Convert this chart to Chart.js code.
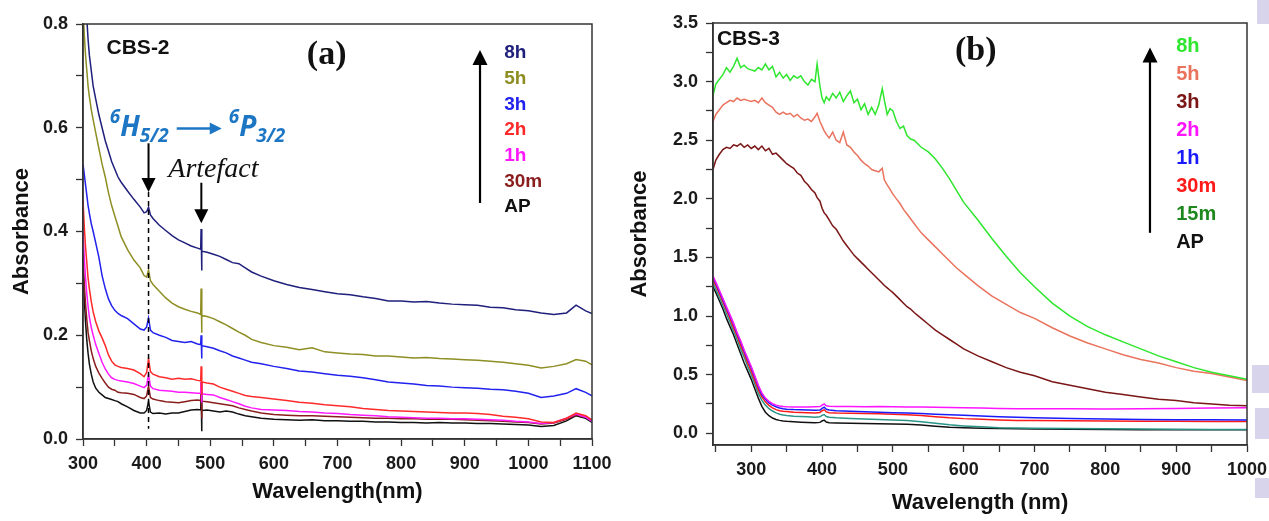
<!DOCTYPE html>
<html>
<head>
<meta charset="utf-8">
<title>UV-Vis absorbance of CBS-2 and CBS-3</title>
<script src="https://cdn.jsdelivr.net/npm/chart.js@4.4.0/dist/chart.umd.min.js"></script>
<style>
  html, body { margin: 0; padding: 0; background: #fff; }
  #wrap { position: relative; width: 1269px; height: 521px; overflow: hidden; background: #fff; }
  canvas { position: absolute; top: 0; }
  #chartA { left: 0; }
  #chartB { left: 620px; }
  .smudge { position: absolute; background: #d8d4ec; }
</style>
</head>
<body>
<div id="wrap">
  <div class="smudge" style="left:1257px;top:0;width:12px;height:24px"></div>
  <div class="smudge" style="left:1252px;top:365px;width:17px;height:28px"></div>
  <div class="smudge" style="left:1255px;top:408px;width:14px;height:31px"></div>
  <div class="smudge" style="left:1255px;top:478px;width:14px;height:20px"></div>
  <canvas id="chartA" width="620" height="521"></canvas>
  <canvas id="chartB" width="649" height="521"></canvas>
</div>
<script>
// ---------- panel (a): CBS-2 ----------
const waveA = [300, 302, 304, 306, 308, 310, 313, 316, 320, 325,
  330, 335, 340, 345, 350, 355, 360, 370, 380, 390,
  396, 400, 403, 406, 410, 420, 430, 440, 450, 460,
  470, 480, 485, 485.6, 486.4, 487, 495, 505, 515, 525,
  535, 545, 555, 565, 580, 600, 620, 640, 660, 680,
  700, 720, 740, 760, 780, 800, 820, 840, 860, 880,
  900, 920, 940, 960, 980, 1000, 1020, 1040, 1060, 1075,
  1090, 1100];

const a8h = [0.98, 0.92, 0.86, 0.81, 0.77, 0.74, 0.71, 0.68, 0.655, 0.625,
  0.600, 0.575, 0.555, 0.535, 0.520, 0.505, 0.495, 0.478, 0.462, 0.447,
  0.436, 0.438, 0.447, 0.432, 0.425, 0.412, 0.402, 0.392, 0.384, 0.378,
  0.372, 0.368, 0.366, 0.405, 0.325, 0.362, 0.360, 0.356, 0.352, 0.346,
  0.340, 0.338, 0.330, 0.322, 0.314, 0.305, 0.298, 0.292, 0.288, 0.284,
  0.280, 0.278, 0.274, 0.271, 0.266, 0.266, 0.264, 0.265, 0.262, 0.260,
  0.259, 0.258, 0.254, 0.253, 0.249, 0.247, 0.243, 0.240, 0.243, 0.258,
  0.247, 0.242];
const a5h = [0.83, 0.78, 0.74, 0.71, 0.68, 0.66, 0.635, 0.615, 0.59, 0.56,
  0.53, 0.505, 0.475, 0.45, 0.43, 0.41, 0.39, 0.365, 0.345, 0.33,
  0.315, 0.312, 0.326, 0.305, 0.298, 0.285, 0.272, 0.262, 0.255, 0.25,
  0.246, 0.243, 0.24, 0.29, 0.205, 0.238, 0.236, 0.232, 0.226, 0.22,
  0.213, 0.206, 0.2, 0.192, 0.186, 0.18, 0.177, 0.172, 0.176, 0.168,
  0.166, 0.164, 0.163, 0.16, 0.16, 0.158, 0.156, 0.157, 0.155, 0.154,
  0.153, 0.152, 0.15, 0.148, 0.145, 0.142, 0.137, 0.14, 0.145, 0.153,
  0.15, 0.143];
const a3h = [0.53, 0.51, 0.49, 0.47, 0.45, 0.435, 0.415, 0.40, 0.378, 0.35,
  0.315, 0.29, 0.27, 0.257, 0.248, 0.242, 0.238, 0.232, 0.222, 0.212,
  0.21, 0.216, 0.233, 0.21, 0.205, 0.2, 0.196, 0.19, 0.188, 0.186,
  0.188, 0.183, 0.182, 0.2, 0.155, 0.18, 0.178, 0.175, 0.17, 0.166,
  0.16, 0.156, 0.152, 0.148, 0.145, 0.14, 0.136, 0.131, 0.129, 0.126,
  0.123, 0.121, 0.118, 0.114, 0.11, 0.108, 0.106, 0.103, 0.102, 0.1,
  0.099, 0.098, 0.096, 0.095, 0.092, 0.088, 0.08, 0.083, 0.088, 0.097,
  0.09, 0.083];
const a2h = [0.46, 0.41, 0.37, 0.34, 0.31, 0.29, 0.265, 0.245, 0.226, 0.208,
  0.195, 0.18, 0.162, 0.15, 0.143, 0.14, 0.138, 0.136, 0.133, 0.126,
  0.12, 0.128, 0.155, 0.13, 0.125, 0.12, 0.118, 0.115, 0.117, 0.115,
  0.116, 0.113, 0.112, 0.14, 0.085, 0.11, 0.108, 0.106, 0.1, 0.096,
  0.092, 0.088, 0.084, 0.082, 0.08, 0.077, 0.074, 0.071, 0.069, 0.066,
  0.064, 0.062, 0.059, 0.057, 0.055, 0.054, 0.053, 0.052, 0.051, 0.05,
  0.05, 0.049, 0.047, 0.044, 0.042, 0.039, 0.033, 0.032, 0.04, 0.05,
  0.045, 0.037];
const a1h = [0.40, 0.35, 0.31, 0.28, 0.255, 0.235, 0.215, 0.2, 0.182, 0.165,
  0.148, 0.135, 0.125, 0.118, 0.115, 0.113, 0.112, 0.11, 0.107, 0.102,
  0.099, 0.104, 0.124, 0.102, 0.097, 0.094, 0.093, 0.092, 0.09, 0.09,
  0.089, 0.088, 0.088, 0.11, 0.07, 0.087, 0.086, 0.085, 0.08, 0.076,
  0.072, 0.068, 0.063, 0.06, 0.057, 0.056, 0.055, 0.053, 0.052, 0.05,
  0.049, 0.047, 0.046, 0.045, 0.043, 0.042, 0.041, 0.04, 0.04, 0.039,
  0.039, 0.038, 0.037, 0.036, 0.034, 0.033, 0.03, 0.032, 0.04, 0.048,
  0.042, 0.034];
const a30m = [0.36, 0.3, 0.26, 0.23, 0.205, 0.19, 0.17, 0.155, 0.14, 0.127,
  0.117, 0.108, 0.1, 0.096, 0.094, 0.09, 0.089, 0.088, 0.086, 0.08,
  0.078, 0.083, 0.102, 0.08, 0.077, 0.074, 0.072, 0.071, 0.07, 0.072,
  0.074, 0.075, 0.074, 0.11, 0.04, 0.073, 0.072, 0.07, 0.068, 0.066,
  0.064, 0.06, 0.057, 0.054, 0.05, 0.047, 0.046, 0.045, 0.045, 0.044,
  0.043, 0.042, 0.041, 0.04, 0.04, 0.039, 0.039, 0.038, 0.038, 0.038,
  0.037, 0.036, 0.035, 0.034, 0.033, 0.032, 0.029, 0.031, 0.038, 0.046,
  0.042, 0.035];
const aAP = [0.33, 0.27, 0.225, 0.19, 0.165, 0.145, 0.125, 0.11, 0.098, 0.09,
  0.085, 0.08, 0.078, 0.076, 0.074, 0.072, 0.068, 0.062, 0.055, 0.05,
  0.05, 0.055, 0.072, 0.052, 0.049, 0.05, 0.048, 0.05, 0.05, 0.053,
  0.056, 0.057, 0.056, 0.09, 0.015, 0.055, 0.056, 0.054, 0.052, 0.054,
  0.052, 0.048, 0.045, 0.043, 0.04, 0.038, 0.037, 0.036, 0.037, 0.035,
  0.035, 0.034, 0.034, 0.033, 0.033, 0.032, 0.032, 0.031, 0.032, 0.031,
  0.031, 0.03, 0.03, 0.029, 0.028, 0.027, 0.024, 0.026, 0.035, 0.045,
  0.04, 0.032];

const namesA = ['8h', '5h', '3h', '2h', '1h', '30m', 'AP'];
const colorsA = ['#1f1f7c', '#8e8e24', '#2222ee', '#ff2a2a', '#ff19ff', '#8a1e1e', '#111111'];
const seriesA = [a8h, a5h, a3h, a2h, a1h, a30m, aAP];
const xTicksA = [300, 350, 400, 450, 500, 550, 600, 650, 700, 750, 800, 850, 900, 950, 1000, 1050, 1100];
const yTicksA = [0, 0.1, 0.2, 0.3, 0.4, 0.5, 0.6, 0.7, 0.8];

// ---------- panel (b): CBS-3 ----------
const waveB = [246, 250, 255, 260, 265, 270, 275, 280, 285, 290,
  295, 300, 305, 310, 315, 320, 325, 330, 335, 340,
  345, 350, 355, 360, 365, 370, 375, 380, 385, 390,
  393, 397, 400, 403, 406, 410, 415, 420, 425, 430,
  435, 440, 445, 450, 455, 460, 465, 470, 475, 480,
  485, 488, 492, 496, 500, 505, 510, 515, 520, 525,
  530, 540, 550, 560, 570, 580, 590, 600, 620, 640,
  660, 680, 700, 725, 750, 775, 800, 825, 850, 875,
  900, 925, 950, 975, 1000];

const b8h = [2.88, 2.98, 3.02, 3.06, 3.12, 3.08, 3.13, 3.20, 3.12, 3.14,
  3.11, 3.10, 3.09, 3.12, 3.10, 3.15, 3.10, 3.13, 3.04, 3.08,
  3.03, 3.06, 3.01, 3.05, 3.03, 3.05, 3.00, 2.97, 3.02, 3.00,
  3.15, 2.96, 2.86, 2.82, 2.87, 2.84, 2.90, 2.86, 2.91, 2.83,
  2.88, 2.92, 2.82, 2.85, 2.76, 2.81, 2.72, 2.78, 2.72, 2.80,
  2.94, 2.84, 2.72, 2.77, 2.75, 2.66, 2.60, 2.62, 2.54, 2.51,
  2.50, 2.44, 2.40, 2.34, 2.26, 2.17, 2.07, 1.97, 1.82, 1.66,
  1.51, 1.37, 1.25, 1.11, 1.00, 0.91, 0.84, 0.78, 0.72, 0.66,
  0.61, 0.56, 0.52, 0.49, 0.46];
const b5h = [2.66, 2.72, 2.76, 2.80, 2.82, 2.84, 2.83, 2.86, 2.84, 2.85,
  2.84, 2.83, 2.84, 2.82, 2.86, 2.82, 2.80, 2.78, 2.74, 2.72,
  2.74, 2.72, 2.73, 2.70, 2.72, 2.69, 2.67, 2.68, 2.66, 2.70,
  2.73, 2.66, 2.62, 2.58, 2.55, 2.52, 2.57, 2.50, 2.48, 2.57,
  2.46, 2.44, 2.40, 2.37, 2.33, 2.30, 2.28, 2.25, 2.24, 2.23,
  2.26, 2.16, 2.12, 2.08, 2.04, 2.00, 1.96, 1.91, 1.87, 1.83,
  1.79, 1.71, 1.65, 1.59, 1.53, 1.47, 1.41, 1.36, 1.26, 1.17,
  1.10, 1.03, 0.98, 0.90, 0.83, 0.77, 0.72, 0.67, 0.63, 0.60,
  0.56, 0.53, 0.51, 0.48, 0.45];
const b3h = [2.25, 2.33, 2.38, 2.42, 2.44, 2.43, 2.46, 2.45, 2.47, 2.44,
  2.46, 2.43, 2.45, 2.42, 2.45, 2.41, 2.43, 2.38, 2.39, 2.36,
  2.33, 2.30, 2.28, 2.26, 2.22, 2.20, 2.15, 2.12, 2.08, 2.05,
  2.01, 1.98, 1.92, 1.88, 1.86, 1.82, 1.77, 1.74, 1.69, 1.64,
  1.60, 1.56, 1.52, 1.49, 1.46, 1.43, 1.40, 1.37, 1.34, 1.31,
  1.28, 1.26, 1.24, 1.22, 1.20, 1.17, 1.14, 1.11, 1.08, 1.06,
  1.03, 0.98, 0.93, 0.88, 0.84, 0.80, 0.76, 0.72, 0.66, 0.61,
  0.56, 0.52, 0.49, 0.44, 0.41, 0.38, 0.35, 0.33, 0.31, 0.29,
  0.28, 0.26, 0.25, 0.24, 0.235];

// the short anneals sit on a coarser grid
const waveBLow = [246, 250, 255, 260, 265, 270, 275, 280, 285, 290,
  295, 300, 305, 310, 315, 320, 325, 330, 335, 340,
  345, 350, 360, 370, 380, 390, 397, 400, 403, 406,
  410, 420, 440, 460, 480, 500, 520, 540, 560, 580,
  600, 625, 650, 675, 700, 750, 800, 850, 900, 950,
  1000];
const b2h = [1.34, 1.29, 1.22, 1.15, 1.08, 1.01, 0.94, 0.86, 0.79, 0.71,
  0.64, 0.57, 0.49, 0.41, 0.345, 0.30, 0.272, 0.252, 0.24, 0.233,
  0.229, 0.227, 0.225, 0.224, 0.224, 0.226, 0.228, 0.24, 0.25, 0.235,
  0.23, 0.228, 0.228, 0.227, 0.228, 0.226, 0.225, 0.224, 0.222, 0.22,
  0.218, 0.215, 0.212, 0.21, 0.21, 0.21, 0.208, 0.21, 0.212, 0.215,
  0.218];
const b1h = [1.33, 1.28, 1.21, 1.14, 1.07, 1.00, 0.93, 0.85, 0.78, 0.70,
  0.63, 0.56, 0.48, 0.40, 0.33, 0.29, 0.26, 0.24, 0.226, 0.216,
  0.21, 0.206, 0.202, 0.20, 0.198, 0.196, 0.198, 0.212, 0.222, 0.205,
  0.198, 0.192, 0.188, 0.184, 0.18, 0.176, 0.172, 0.168, 0.163, 0.158,
  0.153, 0.147, 0.141, 0.136, 0.132, 0.126, 0.122, 0.118, 0.116, 0.115,
  0.114];
const b30m = [1.31, 1.26, 1.19, 1.12, 1.05, 0.98, 0.90, 0.83, 0.75, 0.68,
  0.60, 0.53, 0.45, 0.37, 0.31, 0.268, 0.238, 0.217, 0.202, 0.193,
  0.188, 0.185, 0.18, 0.178, 0.176, 0.174, 0.178, 0.192, 0.20, 0.182,
  0.176, 0.172, 0.17, 0.168, 0.166, 0.163, 0.158, 0.152, 0.142, 0.132,
  0.125, 0.12, 0.114, 0.11, 0.108, 0.106, 0.104, 0.103, 0.102, 0.101,
  0.10];
const b15m = [1.28, 1.23, 1.16, 1.09, 1.02, 0.95, 0.87, 0.80, 0.72, 0.65,
  0.57, 0.50, 0.42, 0.34, 0.28, 0.24, 0.21, 0.19, 0.174, 0.163,
  0.156, 0.152, 0.146, 0.143, 0.14, 0.137, 0.14, 0.153, 0.16, 0.143,
  0.137, 0.132, 0.127, 0.122, 0.118, 0.114, 0.108, 0.098, 0.085, 0.072,
  0.063, 0.055, 0.048, 0.045, 0.043, 0.04, 0.038, 0.036, 0.034, 0.033,
  0.032];
const bAP = [1.25, 1.20, 1.13, 1.06, 0.98, 0.91, 0.84, 0.76, 0.68, 0.60,
  0.53, 0.46, 0.38, 0.30, 0.23, 0.18, 0.15, 0.13, 0.118, 0.11,
  0.105, 0.102, 0.098, 0.095, 0.092, 0.09, 0.093, 0.105, 0.112, 0.096,
  0.09, 0.088, 0.086, 0.084, 0.082, 0.08, 0.077, 0.07, 0.06, 0.052,
  0.047, 0.043, 0.04, 0.038, 0.036, 0.034, 0.032, 0.031, 0.03, 0.03,
  0.03];

const namesB = ['8h', '5h', '3h', '2h', '1h', '30m', '15m', 'AP'];
const lineColorsB = ['#2ee62e', '#ea735e', '#7a1616', '#ff14ff', '#1a1aff', '#ff1a1a', '#2b9488', '#111111'];
const textColorsB = ['#2ee62e', '#ea735e', '#7a1616', '#ff14ff', '#1a1aff', '#ff1a1a', '#1e881e', '#111111'];
const seriesB = [b8h, b5h, b3h, b2h, b1h, b30m, b15m, bAP];
const gridB = [waveB, waveB, waveB, waveBLow, waveBLow, waveBLow, waveBLow, waveBLow];
const xTicksB = [250, 300, 350, 400, 450, 500, 550, 600, 650, 700, 750, 800, 850, 900, 950, 1000];
const yTicksB = [0, 0.25, 0.5, 0.75, 1, 1.25, 1.5, 1.75, 2, 2.25, 2.5, 2.75, 3, 3.25, 3.5];

// ---------- shared styling ----------
const SANS = '"Liberation Sans", Arial, sans-serif';
const SERIF = '"Liberation Serif", "Times New Roman", serif';
const CALI = '"Open Sans", "Noto Sans", sans-serif';
const AXIS = '#333';

function line(xs, ys, color) {
  return {
    data: xs.map((x, i) => ({ x, y: ys[i] })),
    borderColor: color,
    borderWidth: 1.5,
    pointRadius: 0,
    tension: 0,
    fill: false
  };
}

function xAxis(min, max, ticks, height, text, titlePad) {
  return {
    type: 'linear', min, max,
    afterBuildTicks: s => { s.ticks = ticks.map(v => ({ value: v })); },
    // fixed band height, and no extra room reserved for the end labels
    afterFit: s => { s.height = height; s.paddingLeft = 0; s.paddingRight = 0; },
    ticks: {
      autoSkip: false, maxRotation: 0, padding: 7, color: '#1a1a1a',
      font: { family: SANS, size: 18, weight: 'bold' },
      callback: v => (v % 100 === 0 ? String(v) : '')
    },
    grid: { drawOnChartArea: false, tickLength: 7, tickWidth: 1.3, tickColor: AXIS },
    border: { color: AXIS, width: 1.5 },
    title: { display: true, text, color: '#111', font: { family: SANS, size: 22, weight: 'bold' }, padding: { top: 0, bottom: titlePad } }
  };
}

function yAxis(min, max, ticks, labelEvery, width, titlePad) {
  return {
    type: 'linear', min, max,
    afterBuildTicks: s => { s.ticks = ticks.map(v => ({ value: v })); },
    afterFit: s => { s.width = width; },
    ticks: {
      autoSkip: false, padding: 8, color: '#1a1a1a',
      font: { family: SANS, size: 18, weight: 'bold' },
      callback: v => (Math.round(v * 100) % labelEvery === 0 ? v.toFixed(1) : '')
    },
    grid: { drawOnChartArea: false, tickLength: 7, tickWidth: 1.3, tickColor: AXIS },
    border: { color: AXIS, width: 1.5 },
    title: { display: true, text: 'Absorbance', color: '#111', font: { family: SANS, size: 22, weight: 'bold' }, padding: { top: titlePad, bottom: 0 } }
  };
}

// closed box around the plotting area
const frame = {
  id: 'frame',
  afterDraw(chart) {
    const { ctx, chartArea: a } = chart;
    ctx.save();
    ctx.strokeStyle = AXIS;
    ctx.lineWidth = 1.5;
    ctx.strokeRect(a.left, a.top, a.right - a.left, a.bottom - a.top);
    ctx.restore();
  }
};

function arrow(ctx, x0, y0, x1, y1, color, width, head) {
  const ang = Math.atan2(y1 - y0, x1 - x0);
  const c = Math.cos(ang), s = Math.sin(ang);
  ctx.save();
  ctx.strokeStyle = color;
  ctx.fillStyle = color;
  ctx.lineWidth = width;
  ctx.beginPath();
  ctx.moveTo(x0, y0);
  ctx.lineTo(x1 - c * head * 0.8, y1 - s * head * 0.8);
  ctx.stroke();
  ctx.beginPath();
  ctx.moveTo(x1, y1);
  ctx.lineTo(x1 - head * c + head * 0.5 * s, y1 - head * s - head * 0.5 * c);
  ctx.lineTo(x1 - head * c - head * 0.5 * s, y1 - head * s + head * 0.5 * c);
  ctx.closePath();
  ctx.fill();
  ctx.restore();
}

// time-ordered labels next to an upward arrow
function timeLegend(ctx, px, py, arrowX, arrowFrom, arrowTo, textX, firstY, step, names, colors, size) {
  arrow(ctx, px(arrowX), py(arrowFrom), px(arrowX), py(arrowTo), '#000', 2.2, 15);
  ctx.font = `bold ${size}px ${SANS}`;
  ctx.textAlign = 'left';
  ctx.textBaseline = 'middle';
  names.forEach((n, i) => {
    ctx.fillStyle = colors[i];
    ctx.fillText(n, px(textX), py(firstY) + i * step);
  });
}

const notesA = {
  id: 'notesA',
  afterDraw(chart) {
    const { ctx, scales: { x, y } } = chart;
    const px = v => x.getPixelForValue(v), py = v => y.getPixelForValue(v);
    ctx.save();
    ctx.fillStyle = '#111';
    ctx.textBaseline = 'middle';
    ctx.textAlign = 'left';
    ctx.font = `bold 21px ${SANS}`;
    ctx.fillText('CBS-2', px(337), py(0.754));
    ctx.textAlign = 'center';
    ctx.font = `bold 34px ${SERIF}`;
    ctx.fillText('(a)', px(683), py(0.74));

    // 6H5/2 -> 6P3/2 transition of Sm3+
    const blue = '#1c76c4';
    const base = py(0.585);
    let tx = px(342);
    ctx.fillStyle = blue;
    ctx.textAlign = 'left';
    ctx.textBaseline = 'alphabetic';
    const put = (t, f, dy) => { ctx.font = f; ctx.fillText(t, tx, base + dy); tx += ctx.measureText(t).width; };
    const big = `italic bold 28px ${CALI}`, small = `italic bold 19px ${CALI}`;
    put('6', small, -13); put('H', big, 0); put('5/2', small, 6);
    const a0 = tx + 8;
    arrow(ctx, a0, base - 7, a0 + 45, base - 7, blue, 2.6, 12);
    tx = a0 + 52;
    put('6', small, -13); put('P', big, 0); put('3/2', small, 6);

    // marker of the 403 nm band and the lamp-change artefact
    arrow(ctx, px(403), py(0.57), px(403), py(0.476), '#000', 2, 14);
    ctx.save();
    ctx.strokeStyle = '#000';
    ctx.lineWidth = 1.5;
    ctx.setLineDash([5, 4]);
    ctx.beginPath();
    ctx.moveTo(px(403), py(0.476));
    ctx.lineTo(px(403), py(0.02));
    ctx.stroke();
    ctx.restore();
    ctx.fillStyle = '#111';
    ctx.textAlign = 'center';
    ctx.textBaseline = 'middle';
    ctx.font = `italic 28px ${SERIF}`;
    ctx.fillText('Artefact', px(505), py(0.519));
    arrow(ctx, px(486), py(0.494), px(486), py(0.416), '#000', 2, 14);

    timeLegend(ctx, px, py, 924, 0.455, 0.75, 962, 0.744, 25.7, namesA, colorsA, 19);
    ctx.restore();
  }
};

const notesB = {
  id: 'notesB',
  afterDraw(chart) {
    const { ctx, scales: { x, y } } = chart;
    const px = v => x.getPixelForValue(v), py = v => y.getPixelForValue(v);
    ctx.save();
    ctx.fillStyle = '#111';
    ctx.textBaseline = 'middle';
    ctx.textAlign = 'left';
    ctx.font = `bold 21px ${SANS}`;
    ctx.fillText('CBS-3', px(251.5), py(3.36));
    ctx.textAlign = 'center';
    ctx.font = `bold 34px ${SERIF}`;
    ctx.fillText('(b)', px(617), py(3.26));
    timeLegend(ctx, px, py, 863, 1.71, 3.29, 900, 3.30, 28, namesB, textColorsB, 20);
    ctx.restore();
  }
};

const common = {
  responsive: false,
  animation: false,
  events: [],
  plugins: { legend: { display: false }, tooltip: { enabled: false } }
};

new Chart(document.getElementById('chartA'), {
  type: 'line',
  data: { datasets: seriesA.map((ys, i) => Object.assign(line(waveA, ys, colorsA[i]), { label: namesA[i] })) },
  options: Object.assign({}, common, {
    layout: { padding: { top: 24, right: 28, left: 0, bottom: 0 } },
    scales: {
      x: xAxis(300, 1100, xTicksA, 82, 'Wavelength(nm)', 16),
      y: yAxis(0, 0.8, yTicksA, 20, 83, 9)
    }
  }),
  plugins: [frame, notesA]
});

new Chart(document.getElementById('chartB'), {
  type: 'line',
  data: { datasets: seriesB.map((ys, i) => Object.assign(line(gridB[i], ys, lineColorsB[i]), { label: namesB[i] })) },
  options: Object.assign({}, common, {
    layout: { padding: { top: 23, right: 22, left: 0, bottom: 0 } },
    scales: {
      x: xAxis(246, 1000, xTicksB, 76, 'Wavelength (nm)', 5),
      y: yAxis(-0.1, 3.5, yTicksB, 50, 93, 7)
    }
  }),
  plugins: [frame, notesB]
});
</script>
</body>
</html>
